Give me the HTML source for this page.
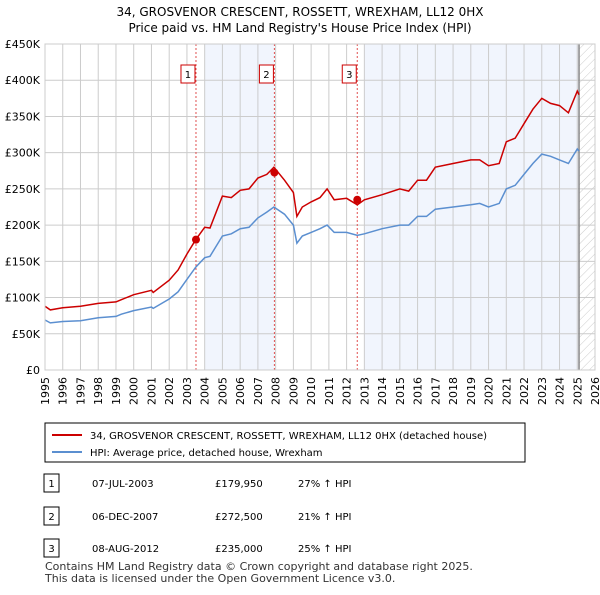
<!DOCTYPE html>
<html><head><meta charset="utf-8"><style>
body{margin:0;background:#fff;font-family:"Liberation Sans","DejaVu Sans",sans-serif;}
svg text{font-family:"DejaVu Sans","Liberation Sans",sans-serif;}
</style></head><body>
<svg id="c" width="600" height="590" viewBox="0 0 600 590">
<defs><pattern id="h" width="6" height="6" patternUnits="userSpaceOnUse" patternTransform="rotate(45)"><line x1="0" y1="0" x2="0" y2="6" stroke="#ccc" stroke-width="1"/></pattern></defs>
<text x="300" y="16" text-anchor="middle" font-size="12">34, GROSVENOR CRESCENT, ROSSETT, WREXHAM, LL12 0HX</text>
<text x="300" y="32" text-anchor="middle" font-size="12">Price paid vs. HM Land Registry's House Price Index (HPI)</text>
<g id="plot"></g>
<rect x="45" y="423" width="480" height="39" fill="#fff" stroke="#000"/>
<line x1="52" y1="435" x2="82" y2="435" stroke="#cc0000" stroke-width="2"/>
<text x="90" y="439" font-size="10">34, GROSVENOR CRESCENT, ROSSETT, WREXHAM, LL12 0HX (detached house)</text>
<line x1="52" y1="452" x2="82" y2="452" stroke="#5b8fd0" stroke-width="2"/>
<text x="90" y="456" font-size="10">HPI: Average price, detached house, Wrexham</text>
<g id="tbl"></g>
<text x="45" y="570" font-size="11" fill="#333">Contains HM Land Registry data © Crown copyright and database right 2025.</text>
<text x="45" y="582" font-size="11" fill="#333">This data is licensed under the Open Government Licence v3.0.</text>
</svg>
<script>
const hpiYears=[1995.0,1995.3,1996,1997,1998,1999,1999.3,2000,2001,2001.1,2002,2002.5,2003,2003.5,2004,2004.3,2005,2005.5,2006,2006.5,2007,2007.5,2007.9,2008.5,2009,2009.2,2009.5,2010,2010.5,2010.9,2011.3,2012,2012.6,2013,2014,2015,2015.5,2016,2016.5,2017,2018,2019,2019.5,2020,2020.6,2021,2021.5,2022,2022.5,2023,2023.5,2024,2024.5,2025,2025.1];
const hpiValues=[69,65,67,68,72,74,77,82,87,85,98,108,125,142,155,157,185,188,195,197,210,218,225,215,200,175,185,190,195,200,190,190,186,188,195,200,200,212,212,222,225,228,230,225,230,250,255,270,285,298,295,290,285,305,302];
const propValues=[88,83,86,88,92,94,97,104,110,107,124,138,160,180,197,196,240,238,248,250,265,270,280,262,245,212,225,232,238,250,235,237,228,235,242,250,247,262,262,280,285,290,290,282,285,315,320,340,360,375,368,365,355,385,380];
const saleYears=[2003.51,2007.93,2012.6];
const salePrices=[179.95,272.5,235];
const saleLabels=["1","2","3"];
const saleDates=["07-JUL-2003","06-DEC-2007","08-AUG-2012"];
const salePriceText=["£179,950","£272,500","£235,000"];
const saleHpiText=["27% ↑ HPI","21% ↑ HPI","25% ↑ HPI"];
const yTicks=[0,50,100,150,200,250,300,350,400,450];
const yTickLabels=["£0","£50K","£100K","£150K","£200K","£250K","£300K","£350K","£400K","£450K"];
const xTicks=[1995,1996,1997,1998,1999,2000,2001,2002,2003,2004,2005,2006,2007,2008,2009,2010,2011,2012,2013,2014,2015,2016,2017,2018,2019,2020,2021,2022,2023,2024,2025,2026];
const shadeBands=[[2004,2007.93],[2013,2025.1]];
const dataEnd=2025.1;
const L=45,R=595,T=44,B=370;
const X=y=>L+(y-1995)/(2026-1995)*(R-L);
const Y=v=>B-v/450*(B-T);
const NS="http://www.w3.org/2000/svg";
const plot=document.getElementById('plot');
function mk(tag,at,par,txt){const e=document.createElementNS(NS,tag);for(const k in at)e.setAttribute(k,at[k]);if(txt!==undefined)e.textContent=txt;(par||plot).appendChild(e);return e;}
let e;
shadeBands.forEach((b,i)=>{e=mk('rect',{x:X(b[0]),y:T,width:X(b[1])-X(b[0]),height:B-T,fill:'#eef3fc',opacity:0.8});

});
e=mk('rect',{x:X(dataEnd),y:T,width:R-X(dataEnd),height:B-T,fill:'url(#h)'});


yTicks.forEach((v,i)=>{e=mk('line',{x1:L,x2:R,y1:Y(v),y2:Y(v),stroke:'#ccc'});


e=mk('text',{x:L-5,y:Y(v)+4,'text-anchor':'end','font-size':11},plot,yTickLabels[i]);

});
xTicks.forEach(t=>{e=mk('line',{x1:X(t),x2:X(t),y1:T,y2:B,stroke:'#ccc'});


const tx=X(t)+4,ty=377;
e=mk('text',{x:tx,y:ty,'text-anchor':'end','font-size':11,transform:'rotate(-90 '+tx+' '+ty+')'},plot,String(t));

});
e=mk('line',{x1:X(dataEnd),x2:X(dataEnd),y1:T,y2:B,stroke:'#888','stroke-width':1.5});


saleYears.forEach((s,i)=>{e=mk('line',{x1:X(s),x2:X(s),y1:T,y2:B,stroke:'#e05050','stroke-dasharray':'2,2'});

});
function pts(vals){return hpiYears.map((y,i)=>X(y).toFixed(1)+','+Y(vals[i]).toFixed(1)).join(' ');}
e=mk('polyline',{points:pts(hpiValues),fill:'none',stroke:'#5b8fd0','stroke-width':1.5});


e=mk('polyline',{points:pts(propValues),fill:'none',stroke:'#cc0000','stroke-width':1.5});


saleYears.forEach((s,i)=>{e=mk('circle',{cx:X(s),cy:Y(salePrices[i]),r:4,fill:'#cc0000'});


e=mk('rect',{x:X(s)-15,y:65,width:14,height:18,fill:'#fff',stroke:'#cc0000'});


e=mk('text',{x:X(s)-8,y:78,'text-anchor':'middle','font-size':10},plot,saleLabels[i]);

});
e=mk('rect',{x:L,y:T,width:R-L,height:B-T,fill:'none',stroke:'#ccc'});


const tbl=document.getElementById('tbl');
const rowY=[483,516,548];
saleYears.forEach((s,i)=>{const y=rowY[i];
e=mk('rect',{x:44,y:y-9,width:15,height:18,fill:'#fff',stroke:'#000'},tbl);


e=mk('text',{x:51.5,y:y+4,'text-anchor':'middle','font-size':10},tbl,saleLabels[i]);


e=mk('text',{x:92,y:y+4,'font-size':10},tbl,saleDates[i]);


e=mk('text',{x:215,y:y+4,'font-size':10},tbl,salePriceText[i]);


e=mk('text',{x:298,y:y+4,'font-size':10},tbl,saleHpiText[i]);

});
</script>
</body></html>
